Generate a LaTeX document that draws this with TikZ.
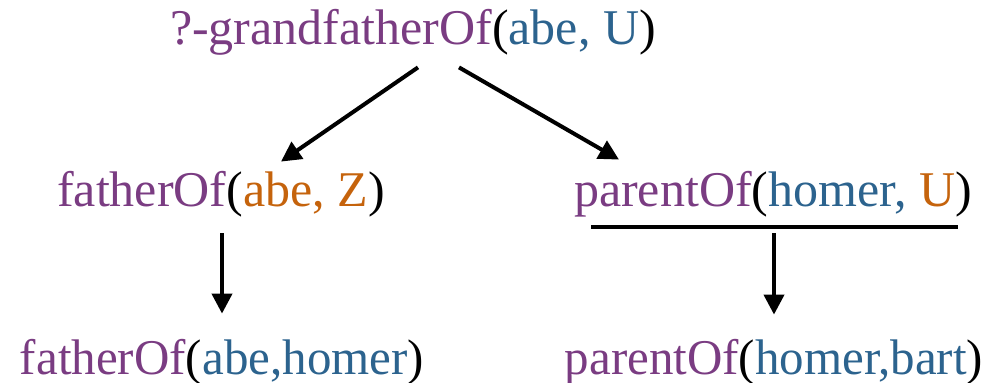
\documentclass[tikz,border=0pt]{standalone}
\usepackage{fontspec}
\setmainfont{Liberation Serif}
\usetikzlibrary{arrows.meta}

\definecolor{relcol}{RGB}{122,60,130}
\definecolor{cstcol}{RGB}{44,99,142}
\definecolor{varcol}{RGB}{197,99,12}

% predicate names, bound terms, unbound variables
\newcommand{\relname}[1]{\textcolor{relcol}{#1}}
\newcommand{\cstname}[1]{\textcolor{cstcol}{#1}}
\newcommand{\varname}[1]{\textcolor{varcol}{#1}}

\tikzset{
  goal/.style={anchor=base, inner sep=0pt, text height=17pt, text depth=5.5pt,
               font=\rmfamily\fontsize{25}{30}\selectfont},
  derive/.style={-{Triangle[length=10pt,width=10pt]}, line width=2pt}
}

\begin{document}
\begin{tikzpicture}[x=0.5pt, y=-0.5pt]
  \useasboundingbox (0,0) rectangle (987,383);

  \node [goal] (gf) at (413,45)
    {\relname{?-grandfatherOf}(\cstname{abe,} \cstname{U})};
  \node [goal] (fa) at (221,207)
    {\relname{fatherOf}(\varname{abe,} \varname{Z})};
  \node [goal] (pa) at (773,207)
    {\relname{parentOf}(\cstname{homer,} \varname{U})};
  \node [goal, xscale=0.98] (fb) at (222,375)
    {\relname{fatherOf}(\cstname{abe,homer})};
  \node [goal, xscale=0.98] (pb) at (774,375)
    {\relname{parentOf}(\cstname{homer,bart})};

  \path [derive]
    ([shift={(5,11)}]gf.south) edge ([shift={(60,-11)}]fa.north)
    ([shift={(46,11)}]gf.south) edge ([shift={(-154,-13)}]pa.north)
    ([shift={(1,15)}]fa.south) edge ([shift={(0,-27)}]fb.north)
    ([shift={(1,15)}]pa.south) edge ([shift={(0,-26)}]pb.north);

  % bar under the second subgoal
  \draw [line width=2pt] ([shift={(-182,9)}]pa.south) -- ([shift={(185,9)}]pa.south);
\end{tikzpicture}
\end{document}
